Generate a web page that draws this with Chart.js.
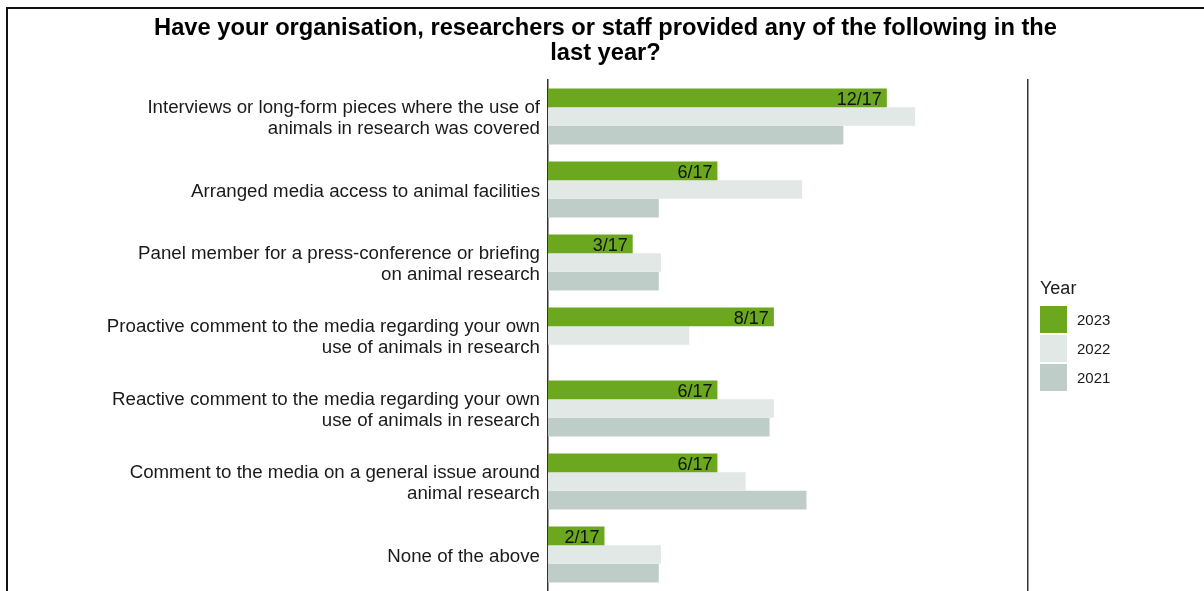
<!DOCTYPE html>
<html>
<head>
<meta charset="utf-8">
<title>Media engagement by year</title>
<script src="https://cdn.jsdelivr.net/npm/chart.js@4"></script>
<style>
  html, body { margin: 0; padding: 0; background: #fff; overflow: hidden; }
  #wrap { position: relative; width: 1204px; height: 591px; }
  #frame {
    position: absolute; left: 6px; top: 7px; width: 1300px; height: 700px;
    border-left: 2px solid #111; border-top: 2px solid #111; pointer-events: none;
  }
  #chart { position: absolute; left: 0; top: 0; }
  #legend {
    position: absolute; left: 1040px; top: 276px;
    font-family: 'Liberation Sans', Arial, sans-serif; color: #1a1a1a;
  }
  #legend .ttl { font-size: 18px; height: 24px; line-height: 24px; margin-bottom: 6px; }
  #legend .row { display: flex; align-items: center; height: 27px; margin-bottom: 2px; }
  #legend .sw { width: 27px; height: 27px; margin-right: 10px; }
  #legend .lab { font-size: 15px; }
</style>
</head>
<body>
<div id="wrap">
  <canvas id="chart" width="1204" height="591"></canvas>
  <div id="legend"></div>
  <div id="frame"></div>
</div>
<script>
  // Survey answers, counted per year
  const categories = [
    ['Interviews or long-form pieces where the use of', 'animals in research was covered'],
    ['Arranged media access to animal facilities'],
    ['Panel member for a press-conference or briefing', 'on animal research'],
    ['Proactive comment to the media regarding your own', 'use of animals in research'],
    ['Reactive comment to the media regarding your own', 'use of animals in research'],
    ['Comment to the media on a general issue around', 'animal research'],
    ['None of the above']
  ];
  const years = ['2023', '2022', '2021'];
  const counts2023 = [12, 6, 3, 8, 6, 6, 2];
  const counts2022 = [13, 9, 4, 5, 8, 7, 4];
  const counts2021 = [8, 3, 3, 0, 6, 7, 3];
  const respondents = [17, 17, 13];
  const colours = ['#6ba71f', '#e2e8e5', '#bfcdc9'];

  const FONT = "'Liberation Sans', Arial, sans-serif";
  const pct = (arr, n) => arr.map(v => v / n * 100);

  // "n/N" label inside the end of each 2023 bar
  const countLabels = {
    id: 'countLabels',
    afterDatasetsDraw(chart) {
      const { ctx } = chart;
      const meta = chart.getDatasetMeta(0);
      ctx.save();
      ctx.font = '18px ' + FONT;
      ctx.fillStyle = '#111';
      ctx.textAlign = 'right';
      ctx.textBaseline = 'middle';
      meta.data.forEach((bar, i) => {
        ctx.fillText(counts2023[i] + '/' + respondents[0], bar.x - 5, bar.y + 2);
      });
      ctx.restore();
    }
  };

  // category axes: no end padding, so bars use the full height
  const noEndPad = width => s => { s.width = width; s.paddingTop = 0; s.paddingBottom = 0; };

  const chart = new Chart(document.getElementById('chart'), {
    type: 'bar',
    data: {
      labels: categories,
      datasets: [
        { label: years[0], data: pct(counts2023, respondents[0]), backgroundColor: colours[0] },
        { label: years[1], data: pct(counts2022, respondents[1]), backgroundColor: colours[1] },
        { label: years[2], data: pct(counts2021, respondents[2]), backgroundColor: colours[2] }
      ]
    },
    options: {
      indexAxis: 'y',
      responsive: false,
      animation: false,
      layout: { padding: { left: 7, right: 0, top: 0, bottom: 0 } },
      datasets: { bar: { categoryPercentage: 0.766, barPercentage: 1, borderWidth: 0 } },
      plugins: {
        legend: { display: false },
        tooltip: { enabled: false },
        title: {
          display: true,
          text: ['Have your organisation, researchers or staff provided any of the following in the', 'last year?'],
          color: '#000',
          font: { family: FONT, size: 23.7, weight: 'bold', lineHeight: 1.055 },
          padding: { top: 16, bottom: 14 }
        }
      },
      scales: {
        x: { display: false, min: 0, max: 100 },
        y: {
          grid: { display: false, drawTicks: false },
          border: { display: true, color: '#333', width: 1.5 },
          ticks: { color: '#1a1a1a', padding: 8, labelOffset: 2, font: { family: FONT, size: 18.7, lineHeight: 1.12 } },
          afterFit: noEndPad(541)
        },
        // right-hand frame line; also keeps room for the legend
        y2: {
          type: 'category',
          position: 'right',
          grid: { display: false, drawTicks: false },
          border: { display: true, color: '#333', width: 1.5 },
          ticks: { display: false },
          afterFit: noEndPad(176)
        }
      }
    },
    plugins: [countLabels]
  });

  // legend built from the chart's datasets
  const legend = document.getElementById('legend');
  legend.innerHTML = '<div class="ttl">Year</div>' + chart.data.datasets.map(d =>
    '<div class="row"><div class="sw" style="background:' + d.backgroundColor + '"></div>' +
    '<span class="lab">' + d.label + '</span></div>').join('');
</script>
</body>
</html>
